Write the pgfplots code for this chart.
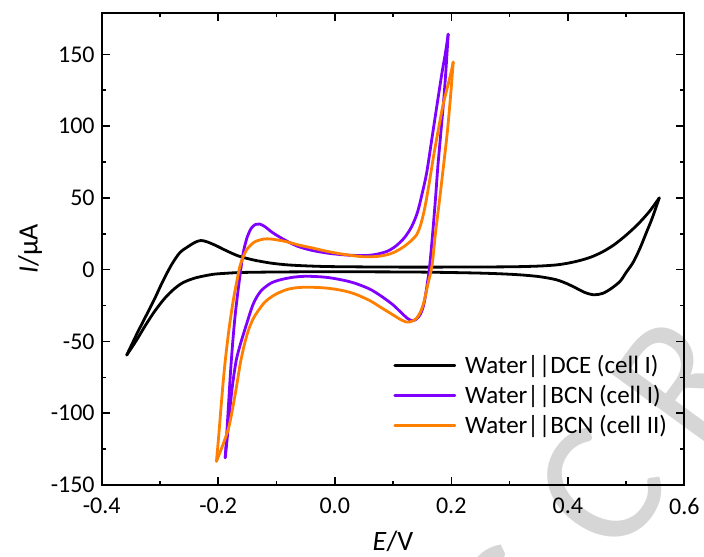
\documentclass[border=0pt]{standalone}
\usepackage{fontspec}
\setmainfont{Carlito}
\usepackage{pgfplots}
\pgfplotsset{compat=1.18}
\definecolor{cvpurple}{HTML}{8000FF}
\definecolor{cvorange}{HTML}{FF8000}
\definecolor{wmgray}{HTML}{D6D6D6}
\begin{document}
\begin{tikzpicture}
% watermark (behind the chart)
\begin{scope}[every node/.style={text=wmgray, font=\fontsize{90}{90}\selectfont, rotate=54, anchor=center}]
\node at (209pt,-57pt) {S};
\node at (249pt,-2pt) {C};
\node at (289pt,53pt) {R};
\node at (329pt,108pt) {I};
\end{scope}
\begin{axis}[
  name=ax, scale only axis, width=291.3pt, height=236.15pt,
  xmin=-0.4, xmax=0.6, ymin=-150, ymax=179,
  xtick={-0.4,-0.2,0,0.2,0.4,0.6}, minor x tick num=1,
  ytick={-150,-100,-50,0,50,100,150}, minor y tick num=1,
  tick align=inside, tick pos=both,
  major tick length=4pt, minor tick length=2pt,
  every tick/.style={black, line width=0.75pt},
  axis line style={line width=0.85pt},
  /pgf/number format/assume math mode=true,
  xticklabel style={yshift=-3pt, /pgf/number format/.cd, fixed, fixed zerofill, precision=1},
  ticklabel style={font=\fontsize{12}{14}\selectfont},
  xlabel={\textit{E}/V}, ylabel={\textit{I}/μA},
  label style={font=\fontsize{14}{16}\selectfont},
  xlabel style={at={(axis description cs:0.5,-0.1186)}, anchor=center},
  ylabel style={at={(axis description cs:-0.123,0.5)}, anchor=center},
  legend cell align=left,
  legend style={draw=none, fill=none, at={(axis cs:0.1,-59.2)}, anchor=north west,
    inner sep=0pt, row sep=4.35pt, font=\fontsize{12.5}{14}\selectfont,
    nodes={inner sep=0pt}, /tikz/every odd column/.style={column sep=4.4pt}},
  legend image code/.code={\draw[#1, line width=1.4pt] (0pt,0pt) -- (30pt,0pt);},
  every axis plot/.append style={line width=1.4pt, smooth, tension=0.5, line join=round, line cap=round},
]
% Water||DCE (cell I)
\addplot[black] coordinates {
(-0.357,-59.5) (-0.340,-45) (-0.325,-33) (-0.310,-21) (-0.295,-8) (-0.280,3.5)
(-0.266,11.8) (-0.252,16) (-0.240,19) (-0.230,20.3) (-0.220,19.5) (-0.205,17)
(-0.185,13) (-0.165,9.5) (-0.14,6.8) (-0.11,4.6) (-0.08,3.3) (-0.04,2.5)
(0.0,2.1) (0.1,1.8) (0.2,1.8) (0.3,2.0) (0.35,2.5) (0.38,3.3) (0.40,4.5)
(0.42,6.3) (0.44,8.8) (0.46,12.5) (0.48,17.5) (0.50,24) (0.52,31.5) (0.54,40.5) (0.557,50)
};
\addplot[black, forget plot] coordinates {
(0.557,50) (0.545,36) (0.535,26) (0.524,15) (0.512,5) (0.50,-2) (0.49,-8)
(0.475,-13) (0.46,-16.5) (0.445,-17.5) (0.43,-16) (0.415,-13) (0.40,-10)
(0.38,-7) (0.35,-4.8) (0.31,-3.4) (0.25,-2.4) (0.15,-1.7) (0.05,-1.5)
(-0.05,-1.5) (-0.12,-1.7) (-0.163,-2) (-0.19,-2.6) (-0.21,-3.3) (-0.237,-5.5)
(-0.255,-8) (-0.266,-10.4) (-0.28,-15) (-0.294,-21) (-0.31,-29.5) (-0.326,-39.5)
(-0.34,-49) (-0.357,-59.5)
};
% Water||BCN (cell I)
\addplot[cvpurple] coordinates {
(-0.188,-131) (-0.185,-112) (-0.182,-92) (-0.179,-72) (-0.175,-50) (-0.171,-32)
(-0.167,-18) (-0.162,-2) (-0.157,12) (-0.150,23) (-0.143,29) (-0.136,31.5)
(-0.129,31.8) (-0.12,30) (-0.106,25.6) (-0.085,20.5) (-0.065,16.5) (-0.04,13.5)
(-0.01,11.4) (0.02,10.2) (0.05,9.8) (0.07,10.6) (0.09,12.8) (0.105,16.5)
(0.12,22.5) (0.132,30) (0.142,40) (0.150,53) (0.158,68) (0.167,92) (0.176,116)
(0.184,137) (0.190,151) (0.1947,164)
};
\addplot[cvpurple, forget plot] coordinates {
(0.1947,164) (0.191,140) (0.187,118) (0.182,95) (0.177,72) (0.173,50) (0.168,25)
(0.163,3) (0.158,-12) (0.153,-24) (0.147,-31) (0.14,-34.5) (0.133,-35.5)
(0.125,-34) (0.113,-29.5) (0.10,-24.5) (0.08,-18.5) (0.06,-13.5) (0.035,-9.5)
(0.013,-7.2) (-0.015,-5.3) (-0.047,-4.6) (-0.07,-5.2) (-0.093,-7) (-0.11,-9.5)
(-0.127,-15) (-0.14,-24) (-0.153,-40) (-0.162,-52) (-0.169,-63) (-0.175,-79)
(-0.180,-97) (-0.184,-115) (-0.188,-131)
};
% Water||BCN (cell II)
\addplot[cvorange] coordinates {
(-0.203,-133.5) (-0.199,-115) (-0.195,-95) (-0.191,-76) (-0.187,-60) (-0.181,-40)
(-0.174,-21) (-0.168,-8) (-0.163,2) (-0.157,9) (-0.151,14) (-0.142,18)
(-0.134,20) (-0.122,21.3) (-0.111,21.4) (-0.097,20.6) (-0.083,19.5) (-0.06,17)
(-0.037,15) (-0.01,12.5) (0.02,10.4) (0.049,9) (0.075,9.3) (0.095,11)
(0.11,13.8) (0.125,18) (0.14,24) (0.148,32) (0.155,44) (0.162,60) (0.170,80)
(0.178,98) (0.186,115) (0.194,128) (0.2,138) (0.2033,144.6)
};
\addplot[cvorange, forget plot] coordinates {
(0.2033,144.6) (0.199,122) (0.193,95) (0.186,70) (0.18,49) (0.173,26) (0.167,3)
(0.160,-10) (0.153,-22.6) (0.147,-29.5) (0.14,-34) (0.132,-36) (0.123,-36.5)
(0.112,-34.5) (0.1,-31.5) (0.08,-26.5) (0.06,-21.5) (0.035,-17) (0.013,-14.5)
(-0.015,-12.8) (-0.047,-12.2) (-0.07,-12.8) (-0.087,-14.5) (-0.105,-18)
(-0.12,-22.6) (-0.132,-29) (-0.14,-34.2) (-0.148,-42) (-0.155,-52) (-0.162,-65)
(-0.168,-80) (-0.175,-96) (-0.182,-110) (-0.192,-122) (-0.203,-133.5)
};
\legend{Water||DCE (cell I), Water||BCN (cell I), Water||BCN (cell II)}
\end{axis}
\pgfresetboundingbox
\path[use as bounding box] (-50.85pt,-35.5pt) rectangle (301.15pt,242.5pt);
\end{tikzpicture}
\end{document}
